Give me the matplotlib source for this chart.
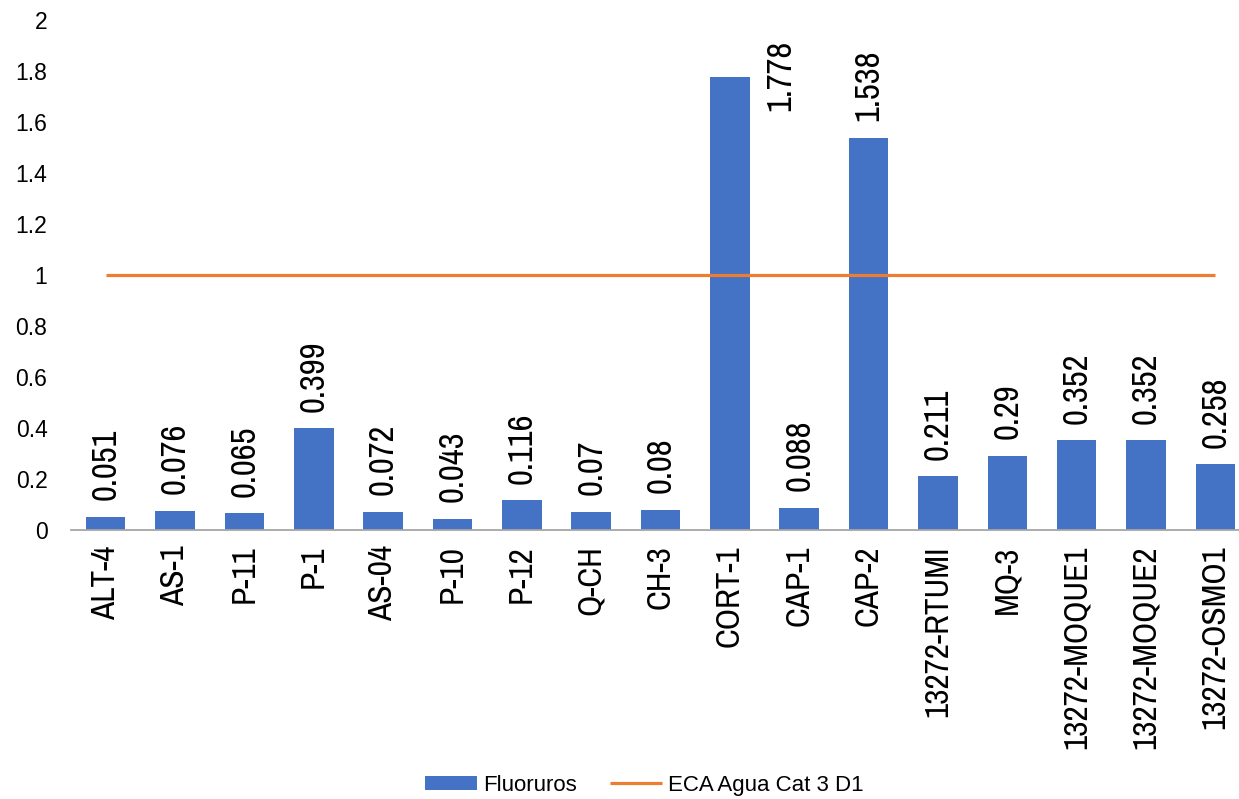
import matplotlib
matplotlib.use('Agg')
from matplotlib import pyplot as plt
import numpy as np

# Datos del grafico
estaciones = ['ALT-4', 'AS-1', 'P-11', 'P-1', 'AS-04', 'P-10', 'P-12', 'Q-CH', 'CH-3',
              'CORT-1', 'CAP-1', 'CAP-2', '13272-RTUMI', 'MQ-3', '13272-MOQUE1',
              '13272-MOQUE2', '13272-OSMO1']
fluoruros = [0.051, 0.076, 0.065, 0.399, 0.072, 0.043, 0.116, 0.07, 0.08,
             1.778, 0.088, 1.538, 0.211, 0.29, 0.352, 0.352, 0.258]
eca = [1] * len(estaciones)
yticks = [0, 0.2, 0.4, 0.6, 0.8, 1, 1.2, 1.4, 1.6, 1.8, 2]
ytick_labels = ['0', '0.2', '0.4', '0.6', '0.8', '1', '1.2', '1.4', '1.6', '1.8', '2']

azul = '#4472C4'
naranja = '#ED7D31'
fuente_angosta = ['Archivo Narrow', 'Liberation Sans', 'DejaVu Sans']

plt.rcParams['font.family'] = ['Liberation Sans', 'DejaVu Sans']

fig = plt.figure(figsize=(12.39, 7.99), dpi=100)
ax = fig.add_axes([0.0573, 0.3367, 0.9516, 0.6383])

x = np.arange(len(estaciones))
barras = ax.bar(x, fluoruros, width=0.57, color=azul, label='Fluoruros')
linea, = ax.plot(x, eca, color=naranja, linewidth=2.3, label='ECA Agua Cat 3 D1', solid_capstyle='butt')

ax.set_xlim(-0.5, len(estaciones) - 0.5)
ax.set_ylim(0, 2)
ax.set_yticks(yticks)
ax.set_yticklabels(ytick_labels, fontsize=16.5)
ax.set_xticks(x)
ax.set_xticklabels(estaciones, rotation=90, fontsize=24, family=fuente_angosta)
ax.tick_params(axis='y', length=0, pad=17)
ax.tick_params(axis='x', length=0, pad=11)

for s in ['top', 'right', 'left']:
    ax.spines[s].set_visible(False)
ax.spines['bottom'].set_color('#A6A6A6')
ax.spines['bottom'].set_linewidth(1.3)

# Etiquetas de valor
ymax = ax.get_ylim()[1]
for xi, v in zip(x, fluoruros):
    if v > ymax - 0.37:
        ax.annotate(str(v), xy=(xi + 0.73, ymax), xytext=(0, -14), textcoords='offset points',
                    rotation=90, ha='center', va='top', fontsize=25, family=fuente_angosta)
    else:
        ax.annotate(str(v), xy=(xi, v), xytext=(0, 12), textcoords='offset points',
                    rotation=90, ha='center', va='bottom', fontsize=25, family=fuente_angosta)

fig.legend([barras, linea], ['Fluoruros', 'ECA Agua Cat 3 D1'], loc='center',
           bbox_to_anchor=(0.52, 0.0175), ncol=2, frameon=False, fontsize=16,
           handlelength=2.35, handleheight=0.6, handletextpad=0.27, columnspacing=1.5)

fig.savefig('out.png', dpi=100)
